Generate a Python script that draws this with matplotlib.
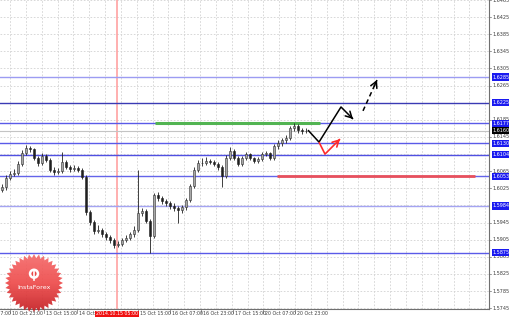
"""GBP/USD H1 forecast chart (InstaForex style) rebuilt with matplotlib."""

import matplotlib

matplotlib.use("Agg")
import matplotlib.pyplot as plt
import matplotlib.transforms as mtransforms
from matplotlib.colors import LinearSegmentedColormap
from matplotlib.patches import Circle, Polygon
import numpy as np

OUT = "out.png"

# candles, one per two H1 bars
OPENS = [1.6020, 1.6028, 1.6049, 1.6059, 1.6061, 1.6082, 1.6108, 1.6119, 1.6117, 1.6096,
         1.6084, 1.6101, 1.6091, 1.6068, 1.6063, 1.6066, 1.6087, 1.6075, 1.6070, 1.6073,
         1.6068, 1.6052, 1.5970, 1.5946, 1.5925, 1.5928, 1.5918, 1.5911, 1.5904, 1.5893,
         1.5895, 1.5904, 1.5909, 1.5918, 1.5928, 1.5967, 1.5972, 1.5949, 1.5914, 1.6010,
         1.6002, 1.5995, 1.5991, 1.5984, 1.5979, 1.5974, 1.5981, 1.5998, 1.6031, 1.6068,
         1.6084, 1.6084, 1.6089, 1.6087, 1.6082, 1.6075, 1.6054, 1.6096, 1.6112, 1.6096,
         1.6082, 1.6096, 1.6105, 1.6096, 1.6089, 1.6094, 1.6105, 1.6108, 1.6096, 1.6124,
         1.6131, 1.6138, 1.6143, 1.6166, 1.6171, 1.6161, 1.6159]
HIGHS = [1.6034, 1.6055, 1.6066, 1.6070, 1.6088, 1.6114, 1.6126, 1.6124, 1.6120, 1.6100,
         1.6107, 1.6106, 1.6095, 1.6074, 1.6072, 1.6110, 1.6091, 1.6080, 1.6079, 1.6078,
         1.6072, 1.6055, 1.5975, 1.5950, 1.5940, 1.5933, 1.5924, 1.5915, 1.5908, 1.5902,
         1.5910, 1.5916, 1.5922, 1.5936, 1.6068, 1.5980, 1.5976, 1.5954, 1.6014, 1.6016,
         1.6008, 1.6000, 1.5996, 1.5990, 1.5984, 1.5987, 1.6003, 1.6036, 1.6074, 1.6092,
         1.6095, 1.6098, 1.6094, 1.6092, 1.6086, 1.6080, 1.6102, 1.6122, 1.6116, 1.6100,
         1.6101, 1.6110, 1.6108, 1.6099, 1.6098, 1.6109, 1.6112, 1.6111, 1.6128, 1.6137,
         1.6142, 1.6150, 1.6170, 1.6178, 1.6175, 1.6166, 1.6165]
LOWS = [1.6016, 1.6022, 1.6044, 1.6053, 1.6056, 1.6077, 1.6102, 1.6110, 1.6090, 1.6078,
        1.6080, 1.6086, 1.6062, 1.6056, 1.6058, 1.6060, 1.6070, 1.6064, 1.6066, 1.6062,
        1.6046, 1.5962, 1.5940, 1.5918, 1.5920, 1.5912, 1.5905, 1.5898, 1.5886, 1.5888,
        1.5890, 1.5900, 1.5905, 1.5912, 1.5922, 1.5960, 1.5944, 1.5874, 1.5908, 1.5996,
        1.5988, 1.5984, 1.5977, 1.5972, 1.5944, 1.5968, 1.5975, 1.5992, 1.6026, 1.6062,
        1.6077, 1.6079, 1.6081, 1.6076, 1.6068, 1.6028, 1.6048, 1.6090, 1.6090, 1.6076,
        1.6077, 1.6090, 1.6090, 1.6083, 1.6085, 1.6088, 1.6100, 1.6090, 1.6090, 1.6118,
        1.6125, 1.6132, 1.6138, 1.6160, 1.6155, 1.6152, 1.6154]
CLOSES = [1.6028, 1.6049, 1.6059, 1.6061, 1.6082, 1.6108, 1.6119, 1.6117, 1.6096, 1.6084,
          1.6101, 1.6091, 1.6068, 1.6063, 1.6066, 1.6087, 1.6075, 1.6070, 1.6073, 1.6068,
          1.6052, 1.5970, 1.5946, 1.5925, 1.5928, 1.5918, 1.5911, 1.5904, 1.5893, 1.5895,
          1.5904, 1.5909, 1.5918, 1.5928, 1.5967, 1.5972, 1.5949, 1.5914, 1.6010, 1.6002,
          1.5995, 1.5991, 1.5984, 1.5979, 1.5974, 1.5981, 1.5998, 1.6031, 1.6068, 1.6084,
          1.6084, 1.6089, 1.6087, 1.6082, 1.6075, 1.6054, 1.6096, 1.6112, 1.6096, 1.6082,
          1.6096, 1.6105, 1.6096, 1.6089, 1.6094, 1.6105, 1.6108, 1.6096, 1.6124, 1.6131,
          1.6138, 1.6143, 1.6166, 1.6171, 1.6161, 1.6159, 1.6160]

LEVELS = [1.6285, 1.6225, 1.6177, 1.6130, 1.6104, 1.6053, 1.5984, 1.5875]
LEVEL_COLORS = ["#9c9cf2", "#3a3ab4", "#5a5ae8", "#5a5ae8", "#5050e2", "#6464ea", "#a4a4f2", "#5a5ae8"]
LAST_PRICE = 1.6160
PRICE_TICKS = [1.6465, 1.6425, 1.6385, 1.6345, 1.6305, 1.6265, 1.6225, 1.6185, 1.6145, 1.6105,
               1.6065, 1.6025, 1.5985, 1.5945, 1.5905, 1.5865, 1.5825, 1.5785, 1.5745]

TIME_LABELS = ["10 Oct 07:00", "10 Oct 23:00", "13 Oct 15:00", "14 Oct 07:00", "15 Oct 15:00",
               "16 Oct 07:00", "16 Oct 23:00", "17 Oct 15:00", "20 Oct 07:00", "20 Oct 23:00"]
TIME_AT = [-11, 5, 22, 38.5, 69, 85, 100.5, 116.5, 131.5, 147.5]
CURSOR_LABEL = "2014.10.15 05:00"
CURSOR_AT = 58.5

# drawn objects: (start bar, end bar, price)
GREEN_LINE = (77.5, 160, 1.6177)
RED_LINE = (138.5, 237.5, 1.6053)

# forecast paths (bar, price)
MAIN_T = [154, 159.5, 170.5, 176.5]
MAIN_P = [1.6161, 1.6133, 1.6215, 1.6187]
ALT_T = [159.5, 162.5, 170]
ALT_P = [1.6133, 1.6105, 1.6140]
NEXT_T = [181.5, 188.5]
NEXT_P = [1.6206, 1.6278]

W, H = 510, 318
AX_W, AX_H = 489, 309
X_MAX = AX_W / 2
Y_LO, Y_HI = 1.5743, 1.6465

GRID = "#d2d2d2"
TEXT = "#3c3c3c"
BOX_BLUE = "#1a1af0"


def arrow_path(ax, ts, ps, color, lw, ls="-"):
    ax.plot(ts, ps, color=color, lw=lw, ls=ls, solid_capstyle="butt", zorder=6)
    # only the last bit of the segment carries the head, so a dashed line stays dashed
    t0 = ts[-1] - 0.2 * (ts[-1] - ts[-2])
    p0 = ps[-1] - 0.2 * (ps[-1] - ps[-2])
    ax.annotate("", xy=(ts[-1], ps[-1]), xytext=(t0, p0),
                arrowprops=dict(arrowstyle="->,head_length=0.55,head_width=0.3", color=color,
                                lw=lw, shrinkA=0, shrinkB=0, mutation_scale=8),
                zorder=7)


def main() -> None:
    fig = plt.figure(figsize=(W / 100, H / 100), dpi=100, facecolor="white")
    ax = fig.add_axes([0, (H - AX_H) / H, AX_W / W, AX_H / H])
    ax.set_xlim(0, X_MAX)
    ax.set_ylim(Y_LO, Y_HI)
    ax.set_facecolor("white")

    # dashed grid
    for p in PRICE_TICKS:
        ax.axhline(p, color=GRID, lw=0.6, ls=(0, (2, 2)), zorder=0)
    for gx in np.arange(5, X_MAX, 7.92):
        ax.axvline(gx, color=GRID, lw=0.6, ls=(0, (2, 2)), zorder=0)

    ax.axvline(CURSOR_AT, color="#ff9a9a", lw=1.1, zorder=1)

    for lvl, c in zip(LEVELS, LEVEL_COLORS):
        ax.axhline(lvl, color=c, lw=1.0, zorder=2)
    ax.axhline(LAST_PRICE, color="#c4c4c4", lw=0.8, zorder=2)

    ax.hlines(GREEN_LINE[2], GREEN_LINE[0], GREEN_LINE[1], color="#52b452", lw=2.2, zorder=3)
    ax.hlines(RED_LINE[2], RED_LINE[0], RED_LINE[1], color="#e8505c", lw=2.0, zorder=3)

    # candles
    o = np.array(OPENS)
    c = np.array(CLOSES)
    x = np.arange(len(c)) * 2 + 1
    ax.vlines(x, LOWS, HIGHS, color="#202020", lw=0.6, zorder=4)
    up = c >= o
    ax.bar(x[up], (c - o)[up], bottom=o[up], width=1.1, color="#a8a8a8", edgecolor="#303030",
           lw=0.4, zorder=5)
    ax.bar(x[~up], (o - c)[~up], bottom=c[~up], width=1.1, color="#202020", edgecolor="#202020",
           lw=0.4, zorder=5)

    # forecast arrows
    arrow_path(ax, MAIN_T, MAIN_P, "black", 1.1)
    arrow_path(ax, ALT_T, ALT_P, "#ff2a2a", 1.2)
    arrow_path(ax, NEXT_T, NEXT_P, "black", 1.1, ls=(0, (3, 2.2)))

    for side in ("top", "left"):
        ax.spines[side].set_visible(False)
    for side in ("right", "bottom"):
        ax.spines[side].set_color("#707070")
        ax.spines[side].set_linewidth(0.8)
    ax.set_xticks([])
    ax.set_yticks([])

    # right price scale
    ytr = mtransforms.blended_transform_factory(ax.transAxes, ax.transData)
    for p in PRICE_TICKS:
        if min(abs(p - lvl) for lvl in LEVELS) < 0.0003:
            continue
        ax.text(1.008, p, f"{p:.4f}", transform=ytr, fontsize=3.5, color=TEXT,
                va="center", ha="left", clip_on=False)
        ax.plot([1.0, 1.004], [p, p], transform=ytr, color="#707070", lw=0.5, clip_on=False)
    for lvl in LEVELS:
        ax.text(1.008, lvl, f"{lvl:.4f}", transform=ytr, fontsize=3.5, color="white",
                va="center", ha="left", clip_on=False, zorder=8,
                bbox=dict(boxstyle="square,pad=0.25", fc=BOX_BLUE, ec="none"))
    ax.text(1.008, LAST_PRICE, f"{LAST_PRICE:.4f}", transform=ytr, fontsize=3.5, color="white",
            va="center", ha="left", clip_on=False, zorder=8,
            bbox=dict(boxstyle="square,pad=0.25", fc="black", ec="none"))

    # time scale
    xtr = mtransforms.blended_transform_factory(ax.transData, ax.transAxes)
    for t, lab in zip(TIME_AT, TIME_LABELS):
        ax.text(t + 0.8, -0.008, lab, transform=xtr, fontsize=3.4, color=TEXT,
                va="top", ha="left", clip_on=False)
        ax.plot([t, t], [0, -0.012], transform=xtr, color="#707070", lw=0.5, clip_on=False)
    ax.text(CURSOR_AT, -0.008, CURSOR_LABEL, transform=xtr, fontsize=3.4, color="white",
            va="top", ha="center", clip_on=False, zorder=8,
            bbox=dict(boxstyle="square,pad=0.2", fc="#f01010", ec="none"))

    # InstaForex badge
    r_px = 29
    lx = fig.add_axes([(34 - r_px) / W, (H - 283 - r_px) / H, 2 * r_px / W, 2 * r_px / H])
    lx.set_xlim(-1, 1)
    lx.set_ylim(-1, 1)
    lx.axis("off")
    n = 36
    ang = np.linspace(0, 2 * np.pi, 2 * n, endpoint=False) + np.pi / 2
    rad = np.where(np.arange(2 * n) % 2 == 0, 1.0, 0.86)
    star = Polygon(np.c_[rad * np.cos(ang), rad * np.sin(ang)], closed=True, fc="none", ec="none")
    lx.add_patch(star)
    cmap = LinearSegmentedColormap.from_list("badge", ["#c41e22", "#ee4a4a", "#f46a6a"])
    grad = np.linspace(0, 1, 64).reshape(-1, 1)
    im = lx.imshow(grad, cmap=cmap, extent=[-1, 1, -1, 1], origin="lower", aspect="auto",
                   alpha=0.92)
    im.set_clip_path(star)
    lx.add_patch(Circle((0, 0.32), 0.18, fc="white", ec="none"))
    lx.add_patch(Circle((0, 0.32), 0.09, fc="#e84848", ec="none"))
    lx.plot([0, 0], [0.1, 0.46], color="white", lw=1.2)
    lx.text(0, -0.14, "InstaForex", color="white", fontsize=4.6, ha="center", va="center")

    fig.savefig(OUT, dpi=100, facecolor="white")


if __name__ == "__main__":
    main()
